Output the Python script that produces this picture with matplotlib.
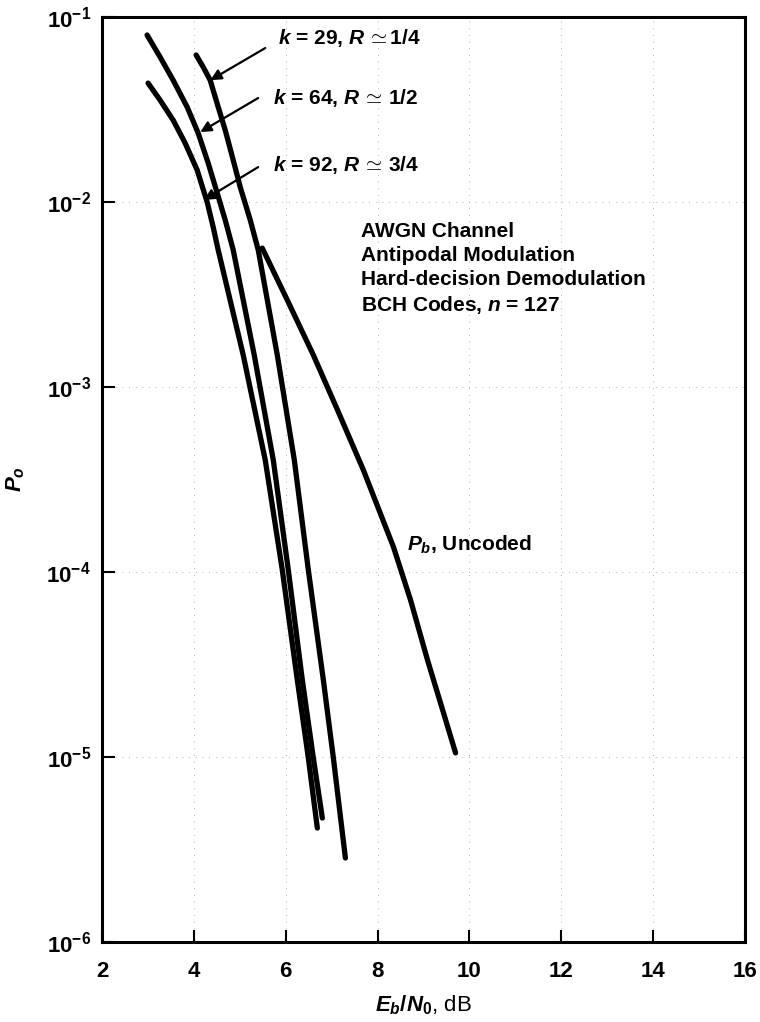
import matplotlib
matplotlib.use("Agg")
import matplotlib.pyplot as plt
import numpy as np

plt.rcParams['font.family'] = ['Liberation Sans', 'DejaVu Sans']
plt.rcParams['font.weight'] = 'bold'
plt.rcParams['mathtext.fontset'] = 'custom'
plt.rcParams['mathtext.rm'] = 'Liberation Sans:bold'
plt.rcParams['mathtext.it'] = 'Liberation Sans:italic:bold'
plt.rcParams['mathtext.bf'] = 'Liberation Sans:bold'

# curves: Eb/N0 (dB) and log10 of error probability
k92_x = [3.003, 3.265, 3.549, 3.810, 4.072, 4.290, 4.421, 4.530, 5.075, 5.555, 5.926, 6.253, 6.493, 6.689]
k92_logp = [-1.357, -1.449, -1.557, -1.681, -1.827, -2.000, -2.135, -2.259, -2.827, -3.395, -3.989, -4.584, -5.005, -5.384]

k64_x = [2.981, 3.265, 3.549, 3.854, 4.094, 4.312, 4.508, 4.683, 4.857, 5.315, 5.730, 6.057, 6.362, 6.602, 6.798]
k64_logp = [-1.097, -1.216, -1.341, -1.486, -1.627, -1.789, -1.951, -2.097, -2.259, -2.827, -3.395, -3.989, -4.584, -5.005, -5.330]

k29_x = [4.050, 4.203, 4.356, 4.530, 4.683, 4.857, 5.010, 5.228, 5.402, 5.817, 6.188, 6.493, 6.820, 7.038, 7.300]
k29_logp = [-1.205, -1.270, -1.341, -1.486, -1.611, -1.773, -1.919, -2.097, -2.259, -2.827, -3.395, -3.989, -4.584, -5.005, -5.546]

unc_x = [5.490, 6.035, 6.602, 7.147, 7.692, 8.347, 8.718, 9.088, 9.437, 9.699]
unc_logp = [-2.249, -2.530, -2.827, -3.135, -3.449, -3.865, -4.151, -4.476, -4.762, -4.978]

x_ticks = [2, 4, 6, 8, 10, 12, 14, 16]
y_ticks = [1e-6, 1e-5, 1e-4, 1e-3, 1e-2, 1e-1]

fig = plt.figure(figsize=(7.6, 10.22), dpi=100)
ax = fig.add_axes([0.1342, 0.0783, 0.846, 0.905])

for xs, lp in [(k92_x, k92_logp), (k64_x, k64_logp), (k29_x, k29_logp), (unc_x, unc_logp)]:
    ax.plot(xs, 10.0 ** np.array(lp), color='black', lw=3.8,
            solid_capstyle='round', solid_joinstyle='round')

ax.set_yscale('log')
ax.set_xlim(2, 16)
ax.set_ylim(1e-6, 1e-1)
ax.set_xticks(x_ticks)
ax.set_xticklabels([str(t) for t in x_ticks])
ax.set_yticks(y_ticks)
ax.set_yticklabels([r'$\mathregular{10^{%d}}$' % int(np.log10(t)) for t in y_ticks])
ax.minorticks_off()
ax.tick_params(direction='in', length=9, width=1.5, labelsize=16)
ax.tick_params(axis='x', pad=14)
ax.tick_params(axis='y', pad=8)
ax.grid(True, color='#999999', lw=0.6, linestyle=(0, (1, 7)))
for s in ax.spines.values():
    s.set_linewidth(2.2)

ax.set_xlabel(r'$E_b/N_0$, dB', fontsize=16, labelpad=8)
ax.set_ylabel(r'$P_o$', fontsize=16, labelpad=14)

arrow = dict(arrowstyle='-|>', color='black', lw=1.6, mutation_scale=16, shrinkA=0, shrinkB=0)
labels = [(r'$k$ = 29, $R\,{\simeq}$1/4', (4.36, 0.0456), (5.555, 0.068), (5.84, 0.077)),
          (r'$k$ = 64, $R\,{\simeq}\,$1/2', (4.14, 0.0239), (5.40, 0.0365), (5.73, 0.0365)),
          (r'$k$ = 92, $R\,{\simeq}\,$3/4', (4.22, 0.01026), (5.40, 0.01545), (5.73, 0.01585))]
for txt, head, tail, pos in labels:
    ax.annotate('', xy=head, xytext=tail, arrowprops=arrow)
    ax.text(pos[0], pos[1], txt, fontsize=15, va='center', ha='left')

ax.text(7.65, 7.8e-3, 'AWGN Channel\nAntipodal Modulation\nHard-decision Demodulation\nBCH Codes, $n$ = 127',
        fontsize=15, va='top', ha='left', linespacing=1.32)
ax.text(8.65, 1.4e-4, r'$P_b$, Uncoded', fontsize=15, va='center', ha='left')

fig.savefig('out.png', dpi=100, facecolor='white')
